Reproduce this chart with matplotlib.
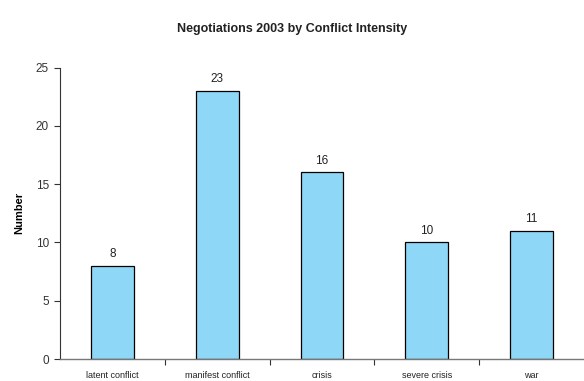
import numpy as np
import matplotlib.pyplot as plt

categories = ['latent conflict', 'manifest conflict', 'crisis', 'severe crisis', 'war']
counts = [8, 23, 16, 10, 11]
yticks = [0, 5, 10, 15, 20, 25]

plt.rcParams['font.family'] = ['Liberation Sans', 'DejaVu Sans']

fig = plt.figure(figsize=(5.84, 3.81), dpi=100)
ax = fig.add_axes([60 / 584, 1 - 359 / 381, 524 / 584, (359 - 67.5) / 381])

x = np.arange(len(categories))
bars = ax.bar(x, counts, width=0.41, color='#8fd7f6', edgecolor='black', linewidth=0.9)

for b, v in zip(bars, counts):
    ax.text(b.get_x() + b.get_width() / 2, v + 0.5, str(v),
            ha='center', va='bottom', fontsize=8.5, color='#222222')

ax.set_xlim(-0.5, len(categories) - 0.5)
ax.set_ylim(0, 25)
ax.set_yticks(yticks)
ax.tick_params(axis='y', labelsize=8.5, length=4, width=0.8, colors='#333333', pad=4)

# category labels sit between the boundary ticks
ax.set_xticks(x)
ax.set_xticklabels(categories, fontsize=6.5)
ax.tick_params(axis='x', length=0, pad=9, colors='#222222')
ax.set_xticks(x[:-1] + 0.5, minor=True)
ax.tick_params(axis='x', which='minor', length=4, width=0.8, color='#333333')

ax.spines['right'].set_visible(False)
ax.spines['top'].set_visible(False)
ax.spines['left'].set_color('#333333')
ax.spines['bottom'].set_color('#777777')
ax.spines['left'].set_linewidth(0.8)
ax.spines['bottom'].set_linewidth(1.0)

ax.set_ylabel('Number', fontsize=8, fontweight='bold', labelpad=8)
fig.text(0.5, 1 - 29 / 381, 'Negotiations 2003 by Conflict Intensity',
         ha='center', va='center', fontsize=9, fontweight='bold', color='#222222')

plt.savefig('out.png', dpi=100)
